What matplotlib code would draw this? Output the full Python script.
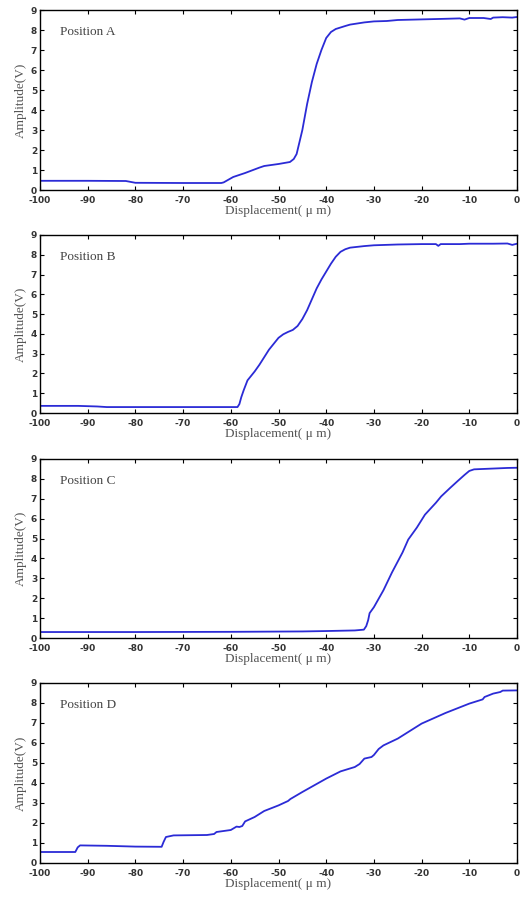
import numpy as np
import matplotlib.pyplot as plt

plt.rcParams['axes.unicode_minus'] = False

xa = [-100, -90, -82, -80, -70, -62, -61.5, -59.5, -57, -54, -53, -50, -47.6, -46.8, -46.2,
      -45.5, -45, -44, -43, -42, -41, -40, -39, -38, -36, -35, -32, -30, -27.3, -25, -20,
      -15, -12, -11, -10, -7, -5.5, -5, -3, -1, 0]
ya = [0.46, 0.46, 0.45, 0.36, 0.35, 0.35, 0.38, 0.65, 0.85, 1.12, 1.2, 1.3, 1.4, 1.55, 1.8,
      2.5, 3.0, 4.3, 5.4, 6.3, 7.0, 7.6, 7.9, 8.05, 8.2, 8.27, 8.38, 8.43, 8.45, 8.5, 8.53,
      8.56, 8.58, 8.52, 8.6, 8.6, 8.55, 8.62, 8.64, 8.62, 8.65]

xb = [-100, -92, -88, -86, -75, -65, -58.6, -58.2, -57.8, -57.3, -56.5, -55, -54, -52, -50,
      -49, -48, -47, -46, -45, -44, -43, -42, -41, -40, -39, -38, -37, -36, -35, -32, -30,
      -25, -20, -17, -16.5, -16, -12, -10, -5, -2, -1, 0]
yb = [0.36, 0.36, 0.33, 0.3, 0.3, 0.3, 0.3, 0.45, 0.8, 1.15, 1.65, 2.1, 2.44, 3.2, 3.8,
      3.98, 4.1, 4.2, 4.4, 4.75, 5.2, 5.75, 6.3, 6.75, 7.15, 7.55, 7.9, 8.15, 8.28, 8.36, 8.44, 8.48,
      8.52, 8.54, 8.54, 8.45, 8.54, 8.54, 8.56, 8.56, 8.57, 8.5, 8.56]

xc = [-100, -80, -60, -45, -40, -34, -32.1, -31.6, -31.2, -30.9, -30, -28, -26.2, -24,
      -22.8, -21, -19.3, -17, -15.9, -14, -12.4, -11, -10, -9, -7, -5, -2, 0]
yc = [0.3, 0.3, 0.31, 0.33, 0.35, 0.38, 0.42, 0.6, 0.9, 1.25, 1.55, 2.4, 3.3, 4.3,
      4.95, 5.55, 6.2, 6.8, 7.12, 7.55, 7.9, 8.2, 8.4, 8.48, 8.5, 8.52, 8.55, 8.56]

xd = [-100, -92.6, -92.1, -91.6, -86, -80, -74.5, -74.1, -73.6, -72, -65, -63.5, -63, -60,
      -58.8, -58.2, -57.6, -57, -55, -53, -50, -48, -47.5, -45, -40, -37, -34, -33, -32,
      -30.5, -30, -29, -28, -25, -20, -15, -10, -7.2, -6.8, -5, -3.5, -3, 0]
yd = [0.55, 0.55, 0.78, 0.88, 0.86, 0.82, 0.81, 1.05, 1.3, 1.38, 1.4, 1.45, 1.55, 1.65,
      1.82, 1.8, 1.85, 2.08, 2.3, 2.6, 2.88, 3.1, 3.2, 3.55, 4.22, 4.58, 4.8, 4.95, 5.22,
      5.3, 5.4, 5.7, 5.88, 6.22, 6.97, 7.5, 7.97, 8.18, 8.3, 8.47, 8.55, 8.62, 8.63]

curves = [(xa, ya, 'Position A'), (xb, yb, 'Position B'),
          (xc, yc, 'Position C'), (xd, yd, 'Position D')]

xticks = list(range(-100, 1, 10))
yticks = list(range(0, 10))

# axes rectangles in pixels: (top, bottom)
W, H = 522, 899
boxes = [(10, 190), (235, 413), (459, 638), (683, 863)]
left, right = 40, 517

fig = plt.figure(figsize=(W / 100, H / 100), dpi=100)

for (x, y, name), (top, bot) in zip(curves, boxes):
    ax = fig.add_axes([left / W, (H - bot) / H, (right - left) / W, (bot - top) / H])
    ax.plot(x, y, color='#2b2bd6', lw=1.3)
    ax.set_xlim(-100, 0)
    ax.set_ylim(0, 9)
    ax.set_xticks(xticks)
    ax.set_yticks(yticks)
    ax.tick_params(direction='in', top=True, right=True, length=3, width=0.8,
                   labelsize=6.5, labelcolor='#333333')
    ax.tick_params(axis='x', pad=4)
    ax.tick_params(axis='y', pad=2)
    for lab in ax.get_xticklabels() + ax.get_yticklabels():
        lab.set_fontfamily('DejaVu Sans')
        lab.set_fontweight('bold')
    for s in ax.spines.values():
        s.set_linewidth(1.0)
    ax.text(-95.8, 7.9, name, fontsize=9.5, family='Liberation Serif',
            color='#444444', va='center')
    ax.set_xlabel('Displacement( μ m)', fontsize=9.5, family='Liberation Serif',
                  color='#555555', labelpad=0)
    ax.set_ylabel('Amplitude(V)', fontsize=9.5, family='Liberation Serif',
                  color='#555555', labelpad=3)

fig.savefig('out.png', dpi=100)
